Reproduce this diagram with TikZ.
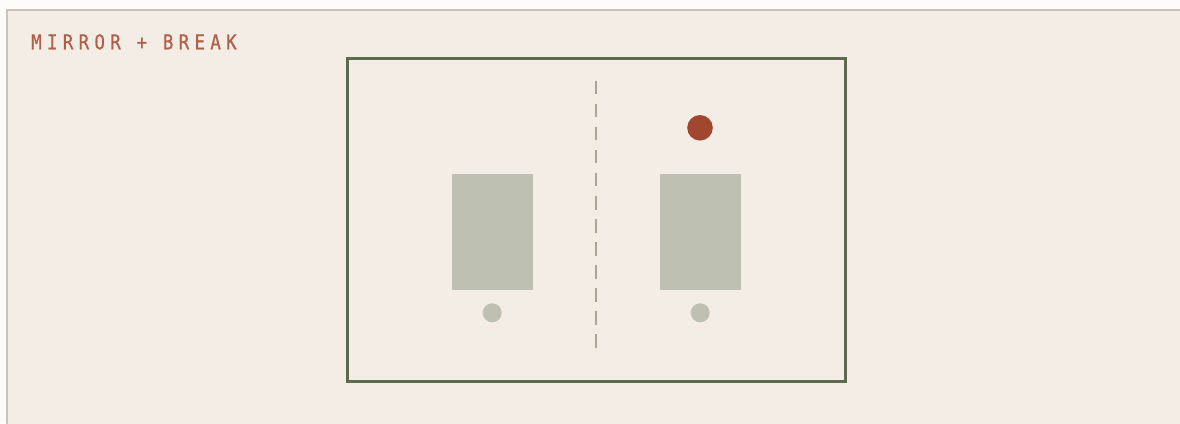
\documentclass[tikz,border=0pt]{standalone}
\usepackage{fontspec}
\newfontfamily\titlefont[FakeStretch=0.85,LetterSpace=26,FakeBold=0.8]{DejaVu Sans Mono}
\definecolor{pagewhite}{HTML}{FDFCFB}
\definecolor{paper}{HTML}{F3EDE6}
\definecolor{cardedge}{HTML}{C9C3BB}
\definecolor{framegreen}{HTML}{5B6B4F}
\definecolor{axisgray}{HTML}{A6A894}
\definecolor{blockgray}{HTML}{BEC0B1}
\definecolor{breakred}{HTML}{A0472F}
\definecolor{titlered}{HTML}{B0604A}
\tikzset{
  block/.style={rectangle, fill=blockgray, draw=none, minimum width=81pt, minimum height=116pt, inner sep=0pt, outer sep=0pt},
  dot/.style={circle, fill=blockgray, draw=none, minimum size=19pt, inner sep=0pt, outer sep=0pt},
  breakdot/.style={circle, fill=breakred, draw=none, minimum size=25.6pt, inner sep=0pt, outer sep=0pt},
  mirrorframe/.style={draw=framegreen, line width=3pt},
  axisline/.style={draw=axisgray, line width=2pt, dash pattern=on 13.5pt off 9.56pt},
  titletext/.style={text=titlered, anchor=base west, inner sep=0pt, font=\titlefont\fontsize{20.5}{24}\selectfont}
}
\begin{document}
\begin{tikzpicture}[x=1pt,y=-1pt]
\useasboundingbox (0,0) rectangle (1180,423);
\clip (0,0) rectangle (1180,423);
\fill[pagewhite] (0,0) rectangle (1180,423);
\filldraw[fill=paper, draw=cardedge, line width=2pt] (7,10) rectangle (1190,440);
\node[titletext] (title) at (31,49.3) {MIRROR + BREAK};
\draw[mirrorframe] (347.5,58.5) rectangle (845,381.7);
\coordinate (axisTop) at (596,80.7);
\coordinate (axisBot) at (596,348.3);
\draw[axisline] (axisTop) -- (axisBot);
\node[block] (leftblock) at (492.5,232) {};
\node[block] (rightblock) at (700.5,232) {};
\node[dot] (leftdot) at (492.2,312.8) {};
\node[dot] (rightdot) at (700.2,312.8) {};
\node[breakdot] (breakdot) at (700,127.8) {};
\end{tikzpicture}
\end{document}
